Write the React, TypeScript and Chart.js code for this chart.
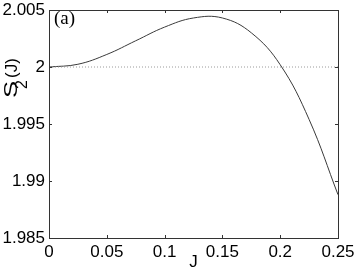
import React, { useEffect, useRef } from "react";
import { Chart, registerables } from "chart.js";

Chart.register(...registerables);

const jValues = [0, 0.025, 0.05, 0.075, 0.1, 0.125, 0.15, 0.175, 0.2, 0.225, 0.25];
const sValues = [2.0, 2.00024, 2.0011, 2.0023, 2.0035, 2.0043, 2.0043, 2.003, 2.0002, 1.9954, 1.9888];
const refLineX = [0, 0.25];
const refLineY = [2, 2];
const xTicks = [0, 0.05, 0.1, 0.15, 0.2, 0.25];
const xTickLabels = ["0", "0.05", "0.1", "0.15", "0.2", "0.25"];
const yTicks = [1.985, 1.99, 1.995, 2, 2.005];
const yTickLabels = ["1.985", "1.99", "1.995", "2", "2.005"];

const SANS = "'Liberation Sans', Arial, sans-serif";
const SERIF = "'Liberation Serif', 'Times New Roman', serif";

const boxPlugin = {
  id: "boxPlugin",
  afterDraw(chart: any) {
    const { ctx, chartArea } = chart;
    const { left, right, top, bottom } = chartArea;
    const xs = chart.scales.x;
    const ys = chart.scales.y;
    ctx.save();
    ctx.strokeStyle = "#333";
    ctx.lineWidth = 1;
    ctx.strokeRect(Math.round(left) + 0.5, Math.round(top) + 0.5, Math.round(right - left), Math.round(bottom - top));
    const tl = 3;
    ctx.beginPath();
    xTicks.forEach((v) => {
      const px = Math.round(xs.getPixelForValue(v)) + 0.5;
      ctx.moveTo(px, bottom);
      ctx.lineTo(px, bottom - tl);
      ctx.moveTo(px, top);
      ctx.lineTo(px, top + tl);
    });
    yTicks.forEach((v) => {
      const py = Math.round(ys.getPixelForValue(v)) + 0.5;
      ctx.moveTo(left, py);
      ctx.lineTo(left + tl, py);
      ctx.moveTo(right, py);
      ctx.lineTo(right - tl, py);
    });
    ctx.stroke();

    ctx.fillStyle = "#000";
    ctx.font = `17px ${SANS}`;
    // tick labels
    ctx.textAlign = "center";
    ctx.textBaseline = "middle";
    xTicks.forEach((v, i) => {
      ctx.fillText(xTickLabels[i], xs.getPixelForValue(v), bottom + 14);
    });
    ctx.textAlign = "right";
    yTicks.forEach((v, i) => {
      ctx.fillText(yTickLabels[i], left - 4, ys.getPixelForValue(v));
    });

    // x title
    ctx.textAlign = "center";
    ctx.textBaseline = "alphabetic";
    ctx.fillText("J", (left + right) / 2, 267);

    // panel label
    ctx.font = `19px ${SERIF}`;
    ctx.textAlign = "left";
    ctx.fillText("(a)", 54, 24);

    // y title S_2(J)
    ctx.translate(17, 98);
    ctx.rotate(-Math.PI / 2);
    ctx.textAlign = "left";
    ctx.save();
    ctx.scale(1.35, 1);
    ctx.font = `19px ${SANS}`;
    ctx.fillText("S", 0, 0);
    ctx.restore();
    ctx.font = `16px ${SANS}`;
    ctx.fillText("2", 9, 10);
    ctx.font = `17px ${SANS}`;
    ctx.fillText("(J)", 20, 0);
    ctx.restore();
  },
};

export default function App() {
  const ref = useRef<HTMLCanvasElement>(null);
  useEffect(() => {
    const canvas = ref.current;
    if (!canvas) return;
    const chart = new Chart(canvas, {
      type: "line",
      data: {
        datasets: [
          {
            data: refLineX.map((x, i) => ({ x, y: refLineY[i] })),
            borderColor: "#9a9a9a",
            borderWidth: 1,
            borderDash: [1, 2],
            pointRadius: 0,
            tension: 0,
          },
          {
            data: jValues.map((x, i) => ({ x, y: sValues[i] })),
            borderColor: "#3a3a3a",
            borderWidth: 1,
            pointRadius: 0,
            tension: 0.4,
          },
        ],
      },
      options: {
        responsive: false,
        animation: false,
        events: [],
        layout: { padding: { top: 10, right: 16, left: 0, bottom: 0 } },
        plugins: { legend: { display: false }, tooltip: { enabled: false } },
        scales: {
          x: {
            type: "linear",
            min: 0,
            max: 0.25,
            grid: { display: false, drawTicks: false },
            border: { display: false },
            ticks: { display: false },
            afterBuildTicks: (s: any) => {
              s.ticks = xTicks.map((v) => ({ value: v }));
            },
            afterFit: (s: any) => {
              s.height = 31;
              s.paddingLeft = 0;
              s.paddingRight = 0;
            },
          },
          y: {
            type: "linear",
            min: 1.985,
            max: 2.005,
            grid: { display: false, drawTicks: false },
            border: { display: false },
            ticks: { display: false },
            afterBuildTicks: (s: any) => {
              s.ticks = yTicks.map((v) => ({ value: v }));
            },
            afterFit: (s: any) => {
              s.width = 49;
              s.paddingTop = 0;
              s.paddingBottom = 0;
            },
          },
        },
      },
      plugins: [boxPlugin],
    } as any);
    return () => chart.destroy();
  }, []);
  return (
    <div style={{ position: "fixed", left: 0, top: 0, width: 354, height: 269, background: "#fff" }}>
      <canvas ref={ref} width={354} height={269} style={{ display: "block" }} />
    </div>
  );
}
